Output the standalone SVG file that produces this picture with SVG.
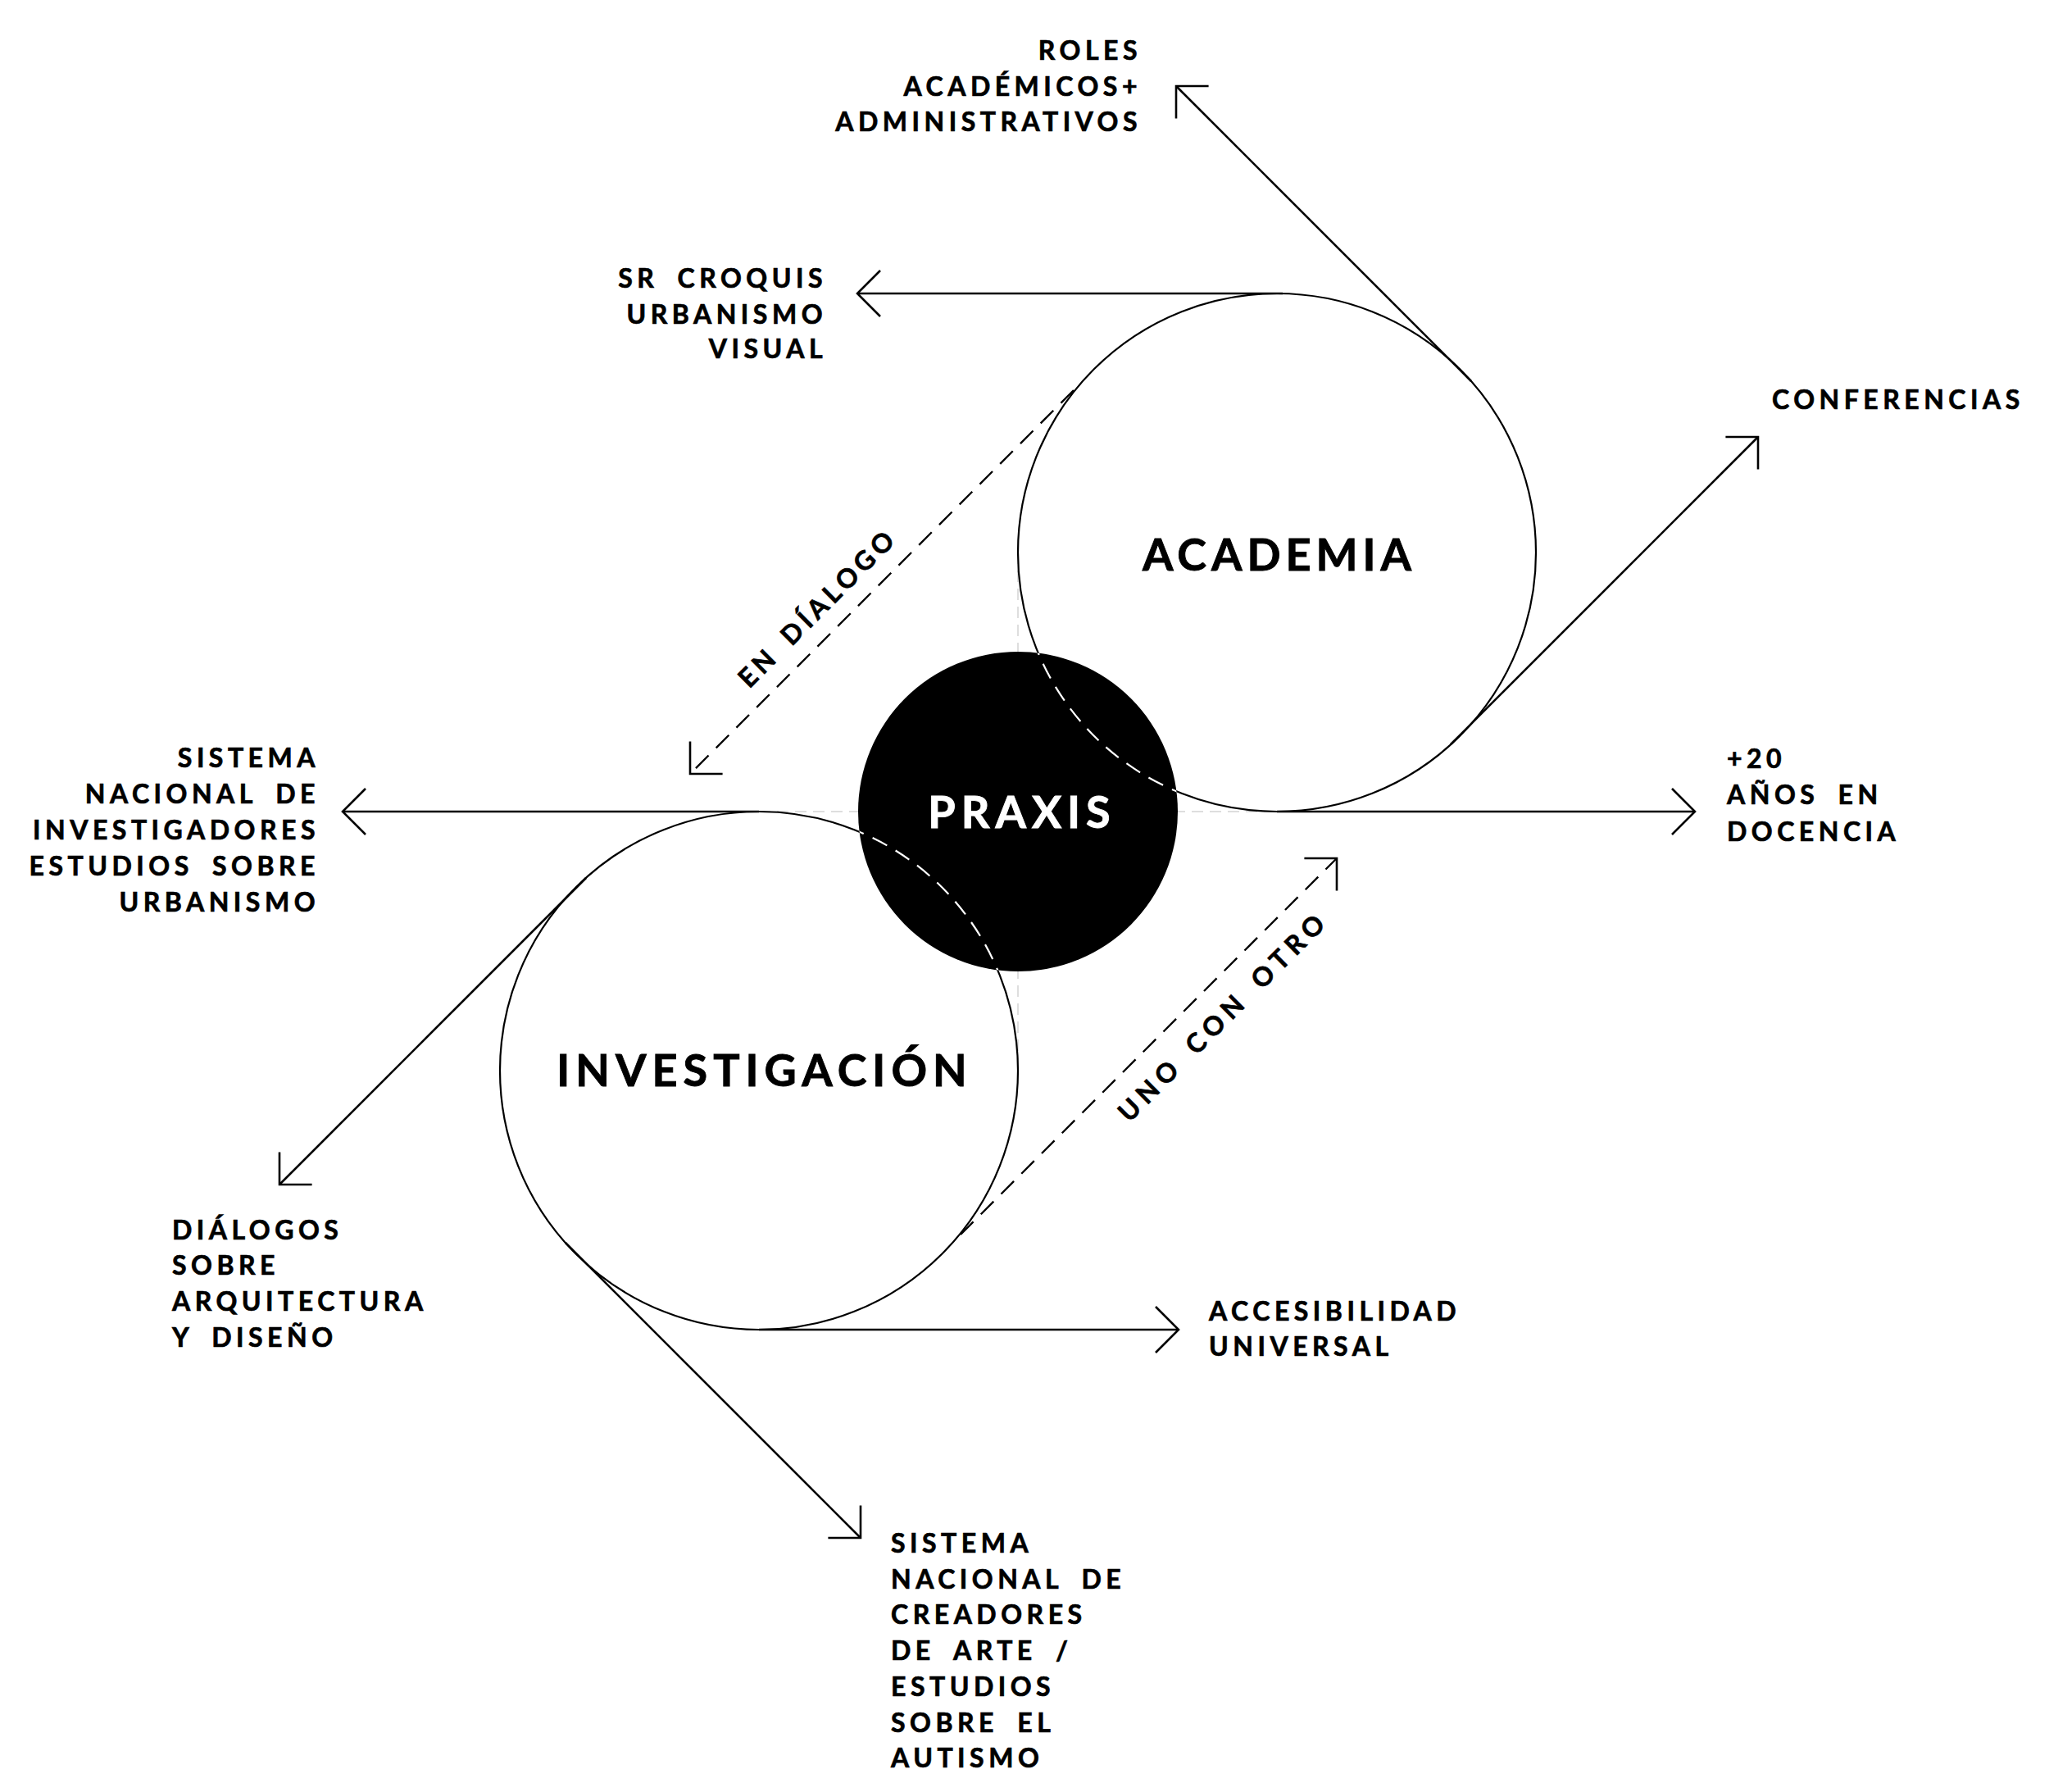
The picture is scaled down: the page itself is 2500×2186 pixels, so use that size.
<svg xmlns="http://www.w3.org/2000/svg" width="2500" height="2186" viewBox="0 0 2500 2186">
<style>
.lbl{font-family:Lato,"Noto Sans","Liberation Sans",sans-serif;font-weight:700;font-size:32px;letter-spacing:5.5px;word-spacing:10px;fill:#000;stroke:#000;stroke-width:0.7}
.big{font-family:Lato,"Noto Sans","Liberation Sans",sans-serif;font-weight:700;font-size:54px;letter-spacing:7px;text-anchor:middle;stroke-width:0.9}
.ln{fill:none;stroke:#000;stroke-width:2.6}
.dash{fill:none;stroke:#000;stroke-width:2.4;stroke-dasharray:22 13}
.ring{fill:none;stroke:#000;stroke-width:2.2}
.wdash{fill:none;stroke:#fff;stroke-width:2.2;stroke-dasharray:20 12}
.guide{fill:none;stroke:#d4d4d4;stroke-width:1.5;stroke-dasharray:14 8}
</style>
<defs>
<marker id="ah" markerUnits="userSpaceOnUse" markerWidth="80" markerHeight="80" viewBox="-40 -40 80 80" refX="0" refY="0" orient="auto" overflow="visible">
<path d="M-28,-28 L0,0 L-28,28" fill="none" stroke="#000" stroke-width="2.6"/>
</marker>
<clipPath id="pc"><circle cx="1242" cy="990" r="195"/></clipPath>
</defs>
<rect width="2500" height="2186" fill="#fff"/>
<g id="guides">
<line class="guide" x1="926" y1="990" x2="1558" y2="990"/>
<line class="guide" x1="1242" y1="674" x2="1242" y2="1306"/>
</g>
<g id="connectors">
<line class="ln" x1="1795" y1="465" x2="1435" y2="105" marker-end="url(#ah)"/>
<line class="ln" x1="1565" y1="358" x2="1046" y2="358" marker-end="url(#ah)"/>
<line class="ln" x1="1770" y1="908" x2="2145" y2="533" marker-end="url(#ah)"/>
<line class="ln" x1="1558" y1="990" x2="2068" y2="990" marker-end="url(#ah)"/>
<line class="ln" x1="926" y1="990" x2="418" y2="990" marker-end="url(#ah)"/>
<line class="ln" x1="715" y1="1071" x2="341" y2="1445" marker-end="url(#ah)"/>
<line class="ln" x1="690" y1="1516" x2="1050" y2="1876" marker-end="url(#ah)"/>
<line class="ln" x1="926" y1="1622" x2="1438" y2="1622" marker-end="url(#ah)"/>
<line class="dash" x1="1310" y1="476" x2="842" y2="944" marker-end="url(#ah)"/>
<line class="dash" x1="1172" y1="1506" x2="1631" y2="1047" marker-end="url(#ah)"/>
</g>
<g id="academia">
<circle class="ring" cx="1558" cy="674" r="316"/>
</g>
<g id="investigacion">
<circle class="ring" cx="926" cy="1306" r="316"/>
</g>
<g id="praxis">
<circle cx="1242" cy="990" r="195" fill="#000"/>
<g clip-path="url(#pc)">
<circle class="wdash" cx="1558" cy="674" r="316"/>
<circle class="wdash" cx="926" cy="1306" r="316"/>
</g>
<text class="big" x="1247" y="1010" fill="#fff" stroke="#fff">PRAXIS</text>
</g>
<text class="big" x="1561" y="696" fill="#000" stroke="#000" style="letter-spacing:6px">ACADEMIA</text>
<text class="big" x="933" y="1325" fill="#000" stroke="#000">INVESTIGACIÓN</text>
<g id="lbl-roles" text-anchor="end">
<text class="lbl" x="1393" y="73">ROLES</text>
<text class="lbl" x="1393" y="117">ACADÉMICOS+</text>
<text class="lbl" x="1393" y="160">ADMINISTRATIVOS</text>
</g>
<g id="lbl-croquis" text-anchor="end">
<text class="lbl" x="1009" y="351">SR CROQUIS</text>
<text class="lbl" x="1009" y="395">URBANISMO</text>
<text class="lbl" x="1009" y="437">VISUAL</text>
</g>
<g id="lbl-conferencias">
<text class="lbl" x="2162" y="499">CONFERENCIAS</text>
</g>
<g id="lbl-docencia">
<text class="lbl" x="2107" y="937">+20</text>
<text class="lbl" x="2107" y="981">AÑOS EN</text>
<text class="lbl" x="2107" y="1026">DOCENCIA</text>
</g>
<g id="lbl-sni" text-anchor="end">
<text class="lbl" x="390" y="936">SISTEMA</text>
<text class="lbl" x="390" y="980">NACIONAL DE</text>
<text class="lbl" x="390" y="1024">INVESTIGADORES</text>
<text class="lbl" x="390" y="1068">ESTUDIOS SOBRE</text>
<text class="lbl" x="390" y="1112">URBANISMO</text>
</g>
<g id="lbl-dialogos">
<text class="lbl" x="210" y="1512">DIÁLOGOS</text>
<text class="lbl" x="210" y="1555">SOBRE</text>
<text class="lbl" x="210" y="1599">ARQUITECTURA</text>
<text class="lbl" x="210" y="1643">Y DISEÑO</text>
</g>
<g id="lbl-accesibilidad">
<text class="lbl" x="1475" y="1611">ACCESIBILIDAD</text>
<text class="lbl" x="1475" y="1654">UNIVERSAL</text>
</g>
<g id="lbl-snca">
<text class="lbl" x="1087" y="1894">SISTEMA</text>
<text class="lbl" x="1087" y="1938">NACIONAL DE</text>
<text class="lbl" x="1087" y="1981">CREADORES</text>
<text class="lbl" x="1087" y="2025">DE ARTE /</text>
<text class="lbl" x="1087" y="2069">ESTUDIOS</text>
<text class="lbl" x="1087" y="2113">SOBRE EL</text>
<text class="lbl" x="1087" y="2156">AUTISMO</text>
</g>
<g id="lbl-endialogo">
<text class="lbl" text-anchor="middle" transform="translate(1003.5,751.5) rotate(-45)" x="3" y="0" style="word-spacing:6px">EN DÍALOGO</text>
</g>
<g id="lbl-unoconotro">
<text class="lbl" text-anchor="middle" transform="translate(1498.5,1249.5) rotate(-45)" x="3" y="0" style="letter-spacing:7px;word-spacing:6px">UNO CON OTRO</text>
</g>
</svg>
